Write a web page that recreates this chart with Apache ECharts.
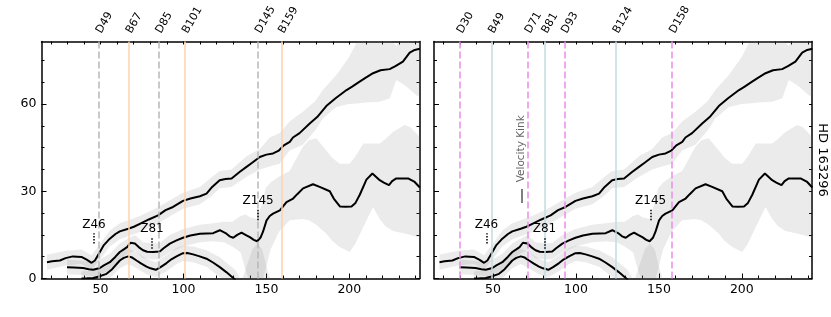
<!DOCTYPE html>
<html><head><meta charset="utf-8">
<script src="https://cdn.jsdelivr.net/npm/echarts@6/dist/echarts.min.js"></script>
<style>html,body{margin:0;padding:0;background:#fff}#c{width:831px;height:317px}</style>
</head><body><div id="c"></div>
<script>
// ---------------- data ----------------
const xTickLabels = [50, 100, 150, 200];
const xMinorTicks = [20, 30, 40, 60, 70, 80, 90, 110, 120, 130, 140, 160, 170, 180, 190, 210, 220, 230, 240];
const yTickLabels = [0, 30, 60];
const yMinorTicks = [7.5, 15, 22.5, 37.5, 45, 52.5, 67.5, 75];

const leftRefNames = ['D49', 'B67', 'D85', 'B101', 'D145', 'B159'];
const leftRefX = [49, 67, 85, 101, 145, 159];
const rightRefNames = ['D30', 'B49', 'D71', 'B81', 'D93', 'B124', 'D158'];
const rightRefX = [30, 49, 71, 81, 93, 124, 158];

const zoneNames = ['Z46', 'Z81', 'Z145'];
const zoneX = [46, 81, 145];
const zoneY0 = [12, 10.2, 20];
const zoneY1 = [15.6, 14.2, 24];

const kinkLabel = 'Velocity Kink';
const kinkX = 67.2;
const kinkY0 = 26.0, kinkY1 = 30.8, kinkTextY = 44.6;
const sideLabel = 'HD 163296';

// line A (upper)
const aX = [17.7,20.8,25.5,28.9,33.3,38.5,41.9,44.6,46.6,49.6,52,55.6,59,61.6,66.7,70.1,73.7,79.1,84.7,89.2,93.7,99.7,104.2,109.9,113.9,117.3,121.8,125.3,129,134,138,141.4,146,150,154,157.5,160.5,164.1,166,170,176.1,180.6,186.1,191.7,198.3,201.7,206.2,209.7,214.3,218.8,224.3,227.8,232.3,236.4,239.4,242.5];
const aY = [5.6,5.9,6.2,7.0,7.6,7.4,6.4,5.4,6.2,9.1,11.5,13.7,15.3,16.2,17.1,17.8,18.8,20.3,21.7,23.5,24.6,26.7,27.5,28.3,29.2,31.5,33.8,34.2,34.4,36.7,38.4,39.8,41.8,42.6,43,44,45.8,47,48.5,50,53.3,55.5,59.3,62,64.8,66,67.7,69,70.6,71.6,72,73,74.6,77.7,78.6,79];
const aBandX = [17.7,28.9,38.5,44.6,49.6,55.6,61.6,66.7,73.7,84.7,93.7,99.7,109.9,117.3,121.8,129,138,146,152,158,164,172,179.5,184,192.2,199.7,204.3,209.7,218.3,224.4,228.3,232,234.4,240.4,242.5];
const aBandLo = [3,4.5,5,3,6.5,11,13.5,14.5,16,19,22,24,25.5,28.5,31,31.5,35,37.5,38.5,39.5,44,46,51,55,59,60,60.2,60.5,60.8,62,68.3,67,66,63,62.5];
const aBandHi = [8.2,9.5,10,8,11.8,16.5,19,20,21.5,24.5,27.5,29.5,31.5,35,37,37.5,42,44.5,48.5,50,54,57.3,61,64.8,70,76,81,84,86,82,80,84,86,86,86];

// line B (middle)
const bX = [29.8,33.9,39.5,42.9,45.6,49.6,52,55.6,59,61.6,64,66,68,70.7,73,75.6,78.1,81.6,85.7,88.2,91.8,95.8,99.7,104.2,109.9,117.9,121.9,125.9,127.8,130,132.4,135,137.4,140,142.4,144.4,146.4,147.9,150.1,152,154,158.1,162.1,166.1,168.6,172.1,178.1,182.1,188.2,190.6,194.3,197.7,201.3,203.7,206.3,210.3,213.9,218.3,220.8,223.9,225.8,228.3,235.4,239.4,242.5];
const bY = [3.9,3.8,3.6,3.2,3.0,3.6,4.5,5.6,7.5,9.1,10,10.8,12.3,12,10.8,9.7,9.2,9.1,9.3,10.5,12,13.1,14,14.8,15.4,15.6,16.6,15.4,14.5,14.0,15,15.8,15,14.2,13.3,12.8,14,16,20,21.5,22.3,23.4,26.3,27.5,29,31,32.4,31.5,30,27.5,24.8,24.7,24.8,26,28.8,34,36.1,33.8,33,32.1,33.5,34.4,34.4,33.2,31.3];
const bBandX = [29.8,39.5,45.6,49.6,55.6,61.6,66,70.7,75.6,81.6,85.7,91.8,99.7,109.9,117.9,124.4,129.4,134.4,137.4,140.4,144.4,147.4,149.5,152.5,157.5,164,172,175.6,180,186,189.6,194.2,200.2,203.7,208.4,214.3,218.3,221.8,226.3,233.3,236.8,241.4,242.5];
const bBandLo = [1.5,1.2,0.8,1.2,3,6.5,8.5,9.5,7,6.5,6.7,9,11,12.5,12.8,12.5,11,9,3,-2,-3,-1,3,10,16,20,20.5,20,18.5,15.5,13,10.8,9.1,12,17.7,24.6,20.5,18,16.3,15.5,15,14.2,14];
const bBandHi = [6.5,6,5.5,6.5,8.5,12,13.5,15,12.5,12,12.2,15,17,18.5,19,19.5,19.5,21.5,22,21,20.5,26,31,33,35,37,45.3,47.5,48.2,44.1,41.5,39.5,39.5,42,46.4,46.4,46.4,48,50.4,52.8,52,49.3,48.5];

// line C (lower)
const cX = [38.5,41.9,45.6,49,53.6,57,61.6,64,66.7,69.1,71.7,74.6,77.7,80.1,83.3,86.2,89.8,92.7,95.8,99.7,102.3,105.8,109.3,113.9,117.8,121.9,125.8,130,131.4];
const cY = [0,0.05,0.2,0.7,1.6,3.2,6.2,7.1,7.6,7.2,6.2,5.1,4.1,3.5,3.0,3.9,5.3,6.6,7.6,8.7,8.8,8.3,7.7,6.8,5.5,3.9,2.2,0.2,-0.5];
const cBandX = [38.5,45.6,53.6,61.6,66.7,71.7,77.7,83.3,89.8,95.8,99.7,105.8,113.9,121.9,130,131.4,135,138.5,141.5,144.5,147.5,150.5,153.5];
const cBandLo = [-2.5,-2.2,-1,3.5,5,3.5,1.5,0.5,2.5,5,6,5.6,4,0.5,-3,-3.5,-6,-6,-6,-6,-6,-6,-6];
const cBandHi = [2.5,2.6,4.2,9,10.3,9,6.8,5.6,8,10.5,11.3,11,9.7,7.3,3.5,2.8,-1,5,10,12,10,3,-2];

// ---------------- chart ----------------
const FONT = 'DejaVu Sans';
const X_MIN = 14.4, X_MAX = 242.3, Y_MAX = 81.5;
const BAND_FILL = 'rgba(120,120,120,0.15)';
const chart = echarts.init(document.getElementById('c'), null, {renderer: 'canvas'});

const axLine = {show: true, onZero: false, lineStyle: {color: '#000', width: 1.5}};
const tickStyle = {color: '#000', width: 1};

function xAxesFor(g, names, xs) {
  return [
    {gridIndex: g, type: 'value', min: X_MIN, max: X_MAX, position: 'bottom',
     axisLine: axLine,
     axisTick: {show: true, inside: true, length: 5, customValues: xTickLabels, lineStyle: tickStyle},
     axisLabel: {customValues: xTickLabels, fontSize: 12.5, color: '#000', fontFamily: FONT, margin: 5},
     splitLine: {show: false}},
    {gridIndex: g, type: 'value', min: X_MIN, max: X_MAX, position: 'bottom',
     axisLine: {show: false, onZero: false},
     axisTick: {show: true, inside: true, length: 3, customValues: xMinorTicks, lineStyle: tickStyle},
     axisLabel: {show: false}, splitLine: {show: false}},
    {gridIndex: g, type: 'value', min: X_MIN, max: X_MAX, position: 'top',
     axisLine: axLine,
     axisTick: {show: true, inside: true, length: 3, customValues: xMinorTicks.concat(xTickLabels), lineStyle: tickStyle},
     axisLabel: {customValues: xs, formatter: v => names[xs.indexOf(v)], rotate: -60,
                 margin: 9, padding: [6, 0, 0, 0], fontSize: 11, color: '#000', fontFamily: FONT},
     splitLine: {show: false}}
  ];
}
function yAxesFor(g) {
  const all = yTickLabels.concat(yMinorTicks);
  return [
    {gridIndex: g, type: 'value', min: 0, max: Y_MAX, position: 'left',
     axisLine: axLine,
     axisTick: {show: true, inside: true, length: 5, customValues: yTickLabels, lineStyle: tickStyle},
     axisLabel: {show: g === 0, customValues: yTickLabels, fontSize: 12.5, color: '#000', fontFamily: FONT, margin: 5},
     splitLine: {show: false}},
    {gridIndex: g, type: 'value', min: 0, max: Y_MAX, position: 'left',
     axisLine: {show: false, onZero: false},
     axisTick: {show: true, inside: true, length: 3, customValues: yMinorTicks, lineStyle: tickStyle},
     axisLabel: {show: false}, splitLine: {show: false}},
    {gridIndex: g, type: 'value', min: 0, max: Y_MAX, position: 'right',
     axisLine: axLine,
     axisTick: {show: true, inside: true, length: 3, customValues: all, lineStyle: tickStyle},
     axisLabel: {show: false}, splitLine: {show: false},
     name: g === 1 ? sideLabel : '', nameLocation: 'middle', nameRotate: -90, nameGap: 4,
     nameTextStyle: {fontSize: 13, color: '#000', fontFamily: FONT}}
  ];
}

function zip(xs, ys) { return xs.map((x, i) => [x, ys[i]]); }

function bandSeries(g, bx, lo, hi) {
  return {
    type: 'custom', xAxisIndex: g * 3, yAxisIndex: g * 3, z: 1, clip: true, silent: true,
    data: [[X_MIN, 0]],
    renderItem: function (params, api) {
      const pts = [];
      for (let i = 0; i < bx.length; i++) pts.push(api.coord([bx[i], hi[i]]));
      for (let i = bx.length - 1; i >= 0; i--) pts.push(api.coord([bx[i], lo[i]]));
      return {type: 'polygon', shape: {points: pts}, style: {fill: BAND_FILL}};
    }
  };
}

function lineSeries(g, xs, ys, extra) {
  return Object.assign({
    type: 'line', xAxisIndex: g * 3, yAxisIndex: g * 3, z: 3, showSymbol: false, symbol: 'none',
    clip: true, silent: true, data: zip(xs, ys),
    lineStyle: {color: '#000', width: 2}
  }, extra || {});
}

function refStyle(g, name) {
  const dashed = name[0] === 'D';
  if (g === 0) {
    return dashed ? {color: '#b8b8b8', width: 1.5, type: [7, 3]} : {color: '#fdd3ae', width: 1.5, type: 'solid'};
  }
  return dashed ? {color: '#ea8fea', width: 1.5, type: [7, 3]} : {color: '#c3dbde', width: 1.5, type: 'solid'};
}

function panelSeries(g, names, xs) {
  const refLines = {
    silent: true, symbol: ['none', 'none'], animation: false,
    label: {show: false},
    data: xs.map((v, i) => ({xAxis: v, lineStyle: refStyle(g, names[i])}))
  };
  const zData = zoneNames.map((n, i) => [
    {name: n, coord: [zoneX[i], zoneY0[i]]},
    {coord: [zoneX[i], zoneY1[i]]}
  ]);
  if (g === 1) {
    zData.push([
      {name: '', coord: [kinkX, kinkY0], lineStyle: {color: '#555', width: 1.5, type: 'solid'}, label: {show: false}},
      {coord: [kinkX, kinkY1]}
    ]);
  }
  const zLines = {
    silent: true, symbol: ['none', 'none'], animation: false,
    lineStyle: {color: '#000', width: 1.5, type: [1.5, 1.5]},
    label: {show: true, position: 'end', formatter: '{b}', distance: 2, fontSize: 12, color: '#000', fontFamily: FONT},
    data: zData
  };
  return [
    bandSeries(g, aBandX, aBandLo, aBandHi),
    bandSeries(g, bBandX, bBandLo, bBandHi),
    bandSeries(g, cBandX, cBandLo, cBandHi),
    lineSeries(g, aX, aY, {markLine: refLines}),
    lineSeries(g, bX, bY, {markLine: zLines}),
    lineSeries(g, cX, cY)
  ];
}

const option = {
  animation: false,
  backgroundColor: '#fff',
  textStyle: {fontFamily: FONT},
  grid: [
    {left: 41.5, top: 41.5, width: 378, height: 237, outerBoundsMode: 'none', containLabel: false},
    {left: 434, top: 41.5, width: 378, height: 237, outerBoundsMode: 'none', containLabel: false}
  ],
  xAxis: xAxesFor(0, leftRefNames, leftRefX).concat(xAxesFor(1, rightRefNames, rightRefX)),
  yAxis: yAxesFor(0).concat(yAxesFor(1)),
  series: panelSeries(0, leftRefNames, leftRefX).concat(panelSeries(1, rightRefNames, rightRefX))
};
chart.setOption(option);

const kp = chart.convertToPixel({xAxisIndex: 3, yAxisIndex: 3}, [kinkX, kinkTextY]);
chart.setOption({
  graphic: [{
    type: 'text', x: kp[0], y: kp[1], rotation: Math.PI / 2, silent: true,
    style: {text: kinkLabel, fill: '#666', fontSize: 10.5, fontFamily: FONT, align: 'center', verticalAlign: 'middle'}
  }]
});
</script>
</body></html>
